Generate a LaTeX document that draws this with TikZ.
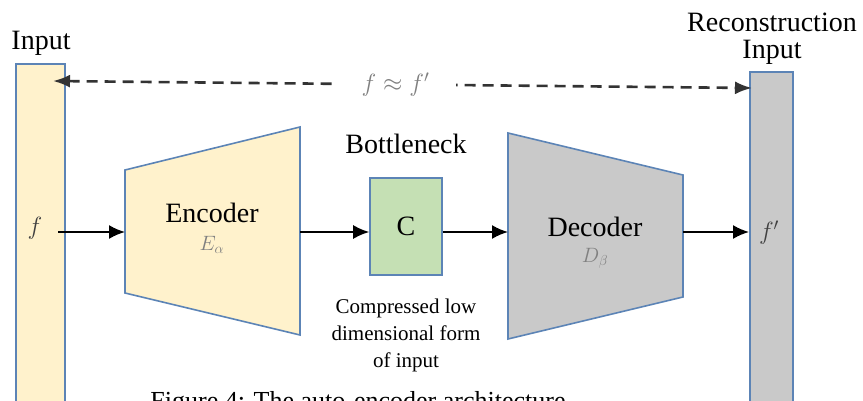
\documentclass[tikz,border=0pt]{standalone}
\usepackage{fontspec}
\setmainfont{Liberation Serif}
\usepackage{amsmath}
\usetikzlibrary{positioning, arrows.meta}
\definecolor{inyellow}{RGB}{255,242,204}
\definecolor{outgray}{RGB}{201,201,201}
\definecolor{cgreen}{RGB}{197,224,180}
\definecolor{edgeblue}{RGB}{92,132,182}
\tikzset{
	block/.style={draw=edgeblue, line width=1.6pt},
	bar/.style={block, inner sep=0pt, anchor=north west, minimum height=360pt},
	lbl/.style={font=\fontsize{28}{30}\selectfont, inner sep=0pt},
	small/.style={font=\fontsize{21}{27}\selectfont, inner sep=0pt, align=center},
	sub/.style={font=\fontsize{22}{24}\selectfont, text=gray, inner sep=0pt},
	conn/.style={-{Latex[length=16pt,width=14pt]}, line width=1.8pt},
	dashconn/.style={{Latex[length=17pt,width=13pt]}-{Latex[length=17pt,width=13pt]}, line width=2.6pt, draw=black!80, dash pattern=on 11pt off 7pt}
}

\begin{document}
\begin{tikzpicture}[x=1pt, y=-1pt]
			\path[use as bounding box, clip] (0,0) rectangle (863,401);
			% input and reconstruction bars
			\node[bar, fill=inyellow, minimum width=49pt] (inbar) at (15,63) {};
			\node[bar, fill=outgray, minimum width=43pt] (outbar) at (749,71) {};
			\node[lbl] (input) at (41,43) {Input};
			\node[lbl, anchor=base] (recon) at (772,32) {Reconstruction};
			\node[lbl, anchor=base] (recin) at (772,59) {Input};
			\node[font=\fontsize{26}{28}\selectfont, text=black!75] (f) at (35,228) {$f$};
			\node[font=\fontsize{26}{28}\selectfont, text=black!75] (fp) at (769,233) {$f'$};
			% encoder and decoder
			\draw[block, fill=inyellow] (125,170) -- (300,127) -- (300,335) -- (125,293) -- cycle;
			\draw[block, fill=outgray] (508,133) -- (683,175) -- (683,297) -- (508,339) -- cycle;
			\coordinate (fout) at (58,232);
			\coordinate (encin) at (125,232);
			\coordinate (encout) at (300,232);
			\coordinate (decin) at (508,232);
			\coordinate (decout) at (683,232);
			\node[lbl] (enc) at (212,213) {Encoder};
			\node[sub, below=13pt of enc] (ealpha) {$E_\alpha$};
			\node[lbl] (dec) at (595,227) {Decoder};
			\node[sub, below=11pt of dec] (dbeta) {$D_\beta$};
			% bottleneck
			\node[block, lbl, fill=cgreen, minimum width=72pt, minimum height=97pt] (c) at (406,226.5) {C};
			\node[lbl, above=23pt of c] (bneck) {Bottleneck};
			\node[small, below=23pt of c] (comp) {Compressed low\\dimensional form\\of input};
			% connectors
			\draw[conn] (fout) -- (encin);
			\draw[conn] (encout) -- (encout -| c.west);
			\draw[conn] (c.east |- decin) -- (decin);
			\draw[conn] (decout) -- (decout -| outbar.west);
			\coordinate (dl) at (53,81);
			\coordinate (dr) at (752,88);
			\draw[dashconn] (dl) -- node[pos=0.49, fill=white, inner xsep=27pt, font=\fontsize{24}{26}\selectfont, text=gray] (approx) {$f\approx f'$} (dr);
			\node[font=\fontsize{26}{28}\selectfont, anchor=base] (caption) at (358,409) {Figure 4: The auto-encoder architecture};
		\end{tikzpicture}
\end{document}
